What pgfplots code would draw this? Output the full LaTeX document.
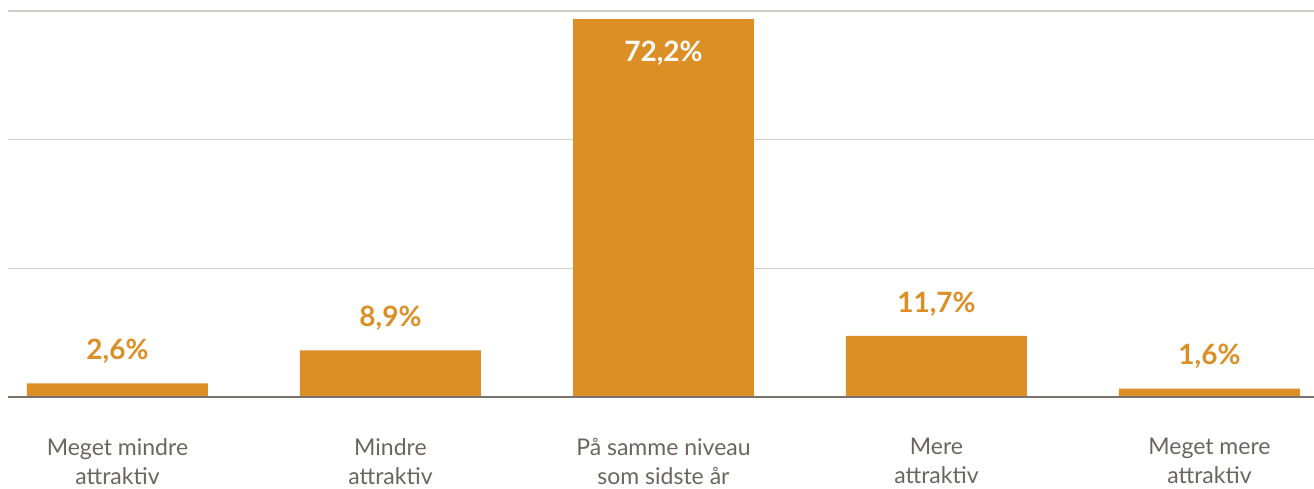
\documentclass[border=0pt]{standalone}
\usepackage{fontspec}
\setmainfont{Lato}
\usepackage{pgfplots}
\pgfplotsset{compat=1.18}
\definecolor{barorange}{RGB}{219,143,37}
\definecolor{gridgray}{RGB}{208,203,199}
\definecolor{basegray}{RGB}{122,114,109}
\definecolor{textgray}{RGB}{107,101,97}
\begin{document}
\begin{tikzpicture}
\begin{axis}[
  scale only axis, width=653pt, height=193pt,
  xmin=-0.401, xmax=4.383, ymin=0, ymax=73.8,
  axis line style={draw=none},
  ytick={24.6,49.2,73.8}, yticklabels={},
  ymajorgrids, grid style={gridgray, line width=0.65pt},
  major tick length=0,
  xtick={0,1,2,3,4},
  xticklabels={{Meget mindre\\attraktiv},{Mindre\\attraktiv},{På samme niveau\\som sidste år},{Mere\\attraktiv},{Meget mere\\attraktiv}},
  xticklabel style={align=center, text=textgray, font=\fontsize{11.5}{14.5}\selectfont, yshift=-17pt},
  /pgf/number format/assume math mode=true,
  ybar, bar width=90.5pt, bar shift=0pt,
  clip=false,
  nodes near coords={\pgfmathprintnumber[fixed,fixed zerofill,precision=1,use comma]{\pgfplotspointmeta}\%},
  every node near coord/.append style={font=\bfseries\fontsize{14}{16}\selectfont, text=barorange, anchor=center, yshift=16pt},
]
\addplot[fill=barorange, draw=none] coordinates {(0,2.6) (1,8.9) (3,11.7) (4,1.6)};
\addplot[fill=barorange, draw=none, every node near coord/.append style={text=white, yshift=-33pt}] coordinates {(2,72.2)};
\draw[basegray, line width=1.1pt] (rel axis cs:0,0) -- (rel axis cs:1,0);
\coordinate (sw) at (rel axis cs:0,0);
\coordinate (ne) at (rel axis cs:1,1);
\end{axis}
\pgfresetboundingbox
\path[use as bounding box] ([shift={(-4pt,-45.5pt)}]sw) rectangle ([shift={(0pt,5.5pt)}]ne);
\end{tikzpicture}
\end{document}
